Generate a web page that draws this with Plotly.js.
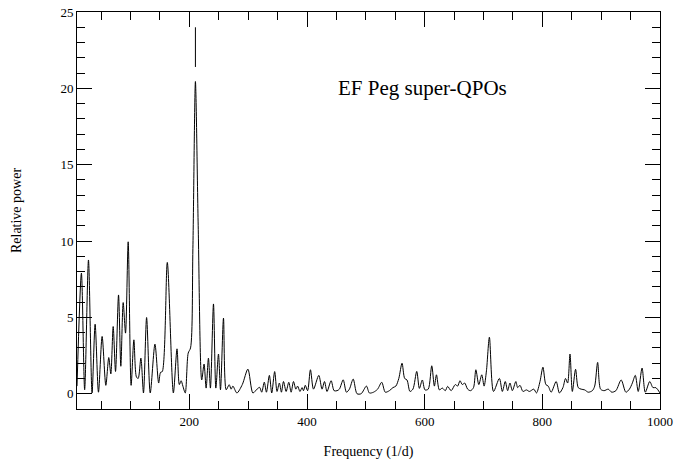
<!DOCTYPE html>
<html>
<head>
<meta charset="utf-8">
<script src="https://cdn.plot.ly/plotly-3.0.1.min.js"></script>
<style>html,body{margin:0;padding:0;background:#fff}#chart{width:674px;height:462px}</style>
</head>
<body>
<div id="chart"></div>
<script>
// Frequency (1/d) and relative power (peaks and troughs)
const frequency = [
  9, 16.5, 22, 28.5, 34.6, 39.8, 45.5, 51.7, 58, 63, 66.5, 70.5, 74.5, 79.6, 83.5, 87.5, 91.5, 96,
  101, 105.7, 110, 113, 117.6, 122, 127.3, 133.5, 141.5, 147.8, 151, 154, 162.5, 172.8, 179, 183,
  186, 189, 193, 198, 202, 206, 210.3, 215, 221, 225, 228.5, 232.4, 235.8, 241, 245, 249.5, 252.9,
  258, 262.6, 267.7, 271, 274, 280.8, 290, 299.5, 308, 315, 319.4, 323, 327.4, 331, 336, 340, 345,
  349, 353, 356.5, 360, 364.5, 369, 373, 377, 381, 384, 388, 391.6, 394, 397, 401, 405.8, 411, 420,
  425.5, 429.7, 434, 441, 446, 451, 455, 461.5, 467, 472, 478.5, 485, 492, 501, 506, 513, 520, 527,
  533, 540, 546, 551, 556, 561.5, 566, 570, 575, 580, 586.5, 591, 596, 600.5, 606, 612, 616.5, 620,
  625, 630, 635, 639, 645, 652, 656, 660, 664, 668, 673, 678, 683, 687, 692, 697, 701, 705, 710,
  717, 727, 732, 737, 741, 745, 749, 755, 758, 762, 767, 773, 778, 785.5, 790, 796, 801, 806, 810,
  815, 823.5, 829, 835, 839.4, 843, 847, 851, 856.5, 861, 866, 872, 878, 885, 889, 894, 899, 905,
  912, 918, 925, 934, 942, 948, 953, 958, 963, 969.5, 975, 982.6, 988, 993, 1000
];
const power = [
  0.5, 7.9, 0.26, 8.76, 0.05, 4.55, 0.1, 3.75, 0.55, 2.37, 1.3, 4.4, 1.46, 6.47, 1.8, 5.97, 3.97, 9.95,
  0.55, 3.53, 1.1, 1.0, 2.33, 0.05, 4.99, 0.05, 3.25, 0.7, 1.4, 1.45, 8.6, 0.05, 2.94, 0.6,
  0.85, 0.5, 0.05, 2.66, 3.0, 9.5, 20.45, 11, 0.9, 1.94, 0.37, 2.33, 0.37, 5.88, 0.37, 2.6, 0.26,
  4.95, 0.26, 0.59, 0.3, 0.5, 0.05, 0.6, 1.61, 0.05, 0.3, 0.42, 0.1, 0.76, 0.1, 1.2, 0.05, 1.45,
  0.15, 0.7, 0.1, 0.8, 0.15, 0.75, 0.1, 0.8, 0.3, 0.5, 0.15, 0.4, 0.2, 0.55, 0.2, 1.57, 0.3, 1.2,
  0.3, 0.8, 0.15, 0.85, 0.2, 0.2, 0.3, 0.91, 0.1, 0.3, 0.96, 0.0, 0.0, 0.5, 0.05, 0.1, 0.3, 0.75,
  0.1, 0.2, 0.4, 0.5, 1.0, 2.0, 1.0, 0.9, 0.15, 0.3, 1.46, 0.35, 0.9, 0.25, 0.3, 1.83, 0.5, 1.24,
  0.25, 0.37, 0.2, 0.48, 0.2, 0.6, 0.5, 0.85, 0.6, 0.7, 0.3, 0.2, 0.4, 1.57, 0.6, 1.24, 0.5, 1.5, 3.7,
  0.15, 1.0, 0.15, 0.8, 0.2, 0.7, 0.2, 0.8, 0.4, 0.55, 0.15, 0.25, 0.15, 0.3, 0.05, 0.8, 1.74, 0.6, 0.5,
  0.1, 0.8, 0.05, 0.4, 1.0, 0.7, 2.6, 0.15, 1.6, 0.4, 0.3, 0.25, 0.1, 0.2, 0.5, 2.05, 0.3, 0.2,
  0.3, 0.1, 0.2, 0.9, 0.1, 0.3, 0.7, 1.2, 0.15, 1.68, 0.1, 0.8, 0.4, 0.4, 0.05
];
// vertical marker above the main peak
const markerFreq = [210.3, 210.3];
const markerPower = [21.4, 24.0];
const chartLabel = "EF Peg super-QPOs";
const labelPos = {x: 597, y: 20.0};

const serif = "Liberation Serif, Times New Roman, serif";
const axisCommon = {
  showline: true, linecolor: "#000", linewidth: 1, mirror: "allticks",
  ticks: "inside", tickcolor: "#000", tickwidth: 1, ticklen: 15,
  showgrid: false, zeroline: false,
  tickfont: {family: serif, size: 13, color: "#000"}
};

const traces = [
  {x: frequency, y: power, type: "scatter", mode: "lines",
   line: {color: "#000", width: 1, shape: "spline", smoothing: 0.8}, hoverinfo: "skip"},
  {x: markerFreq, y: markerPower, type: "scatter", mode: "lines",
   line: {color: "#000", width: 1}, hoverinfo: "skip"}
];

const layout = {
  width: 674, height: 462,
  margin: {l: 77, r: 14, t: 12, b: 53},
  paper_bgcolor: "#fff", plot_bgcolor: "#fff",
  showlegend: false,
  font: {family: serif, color: "#000"},
  xaxis: Object.assign({}, axisCommon, {
    range: [9, 1000], tickvals: [200, 400, 600, 800, 1000],
    minor: {dtick: 50, tick0: 0, ticks: "inside", ticklen: 8, tickcolor: "#000", tickwidth: 1, showgrid: false},
    title: {text: "Frequency (1/d)", font: {family: serif, size: 14, color: "#000"}, standoff: 18}
  }),
  yaxis: Object.assign({}, axisCommon, {
    range: [-1, 25], tickvals: [0, 5, 10, 15, 20, 25],
    minor: {dtick: 1, tick0: 0, ticks: "inside", ticklen: 8, tickcolor: "#000", tickwidth: 1, showgrid: false},
    title: {text: "Relative power", font: {family: serif, size: 14, color: "#000"}, standoff: 35}
  }),
  annotations: [{
    x: labelPos.x, y: labelPos.y, xref: "x", yref: "y", text: chartLabel, showarrow: false,
    xanchor: "center", yanchor: "middle", font: {family: serif, size: 21, color: "#000"}
  }]
};

Plotly.newPlot("chart", traces, layout, {staticPlot: true, displayModeBar: false});
</script>
</body>
</html>
